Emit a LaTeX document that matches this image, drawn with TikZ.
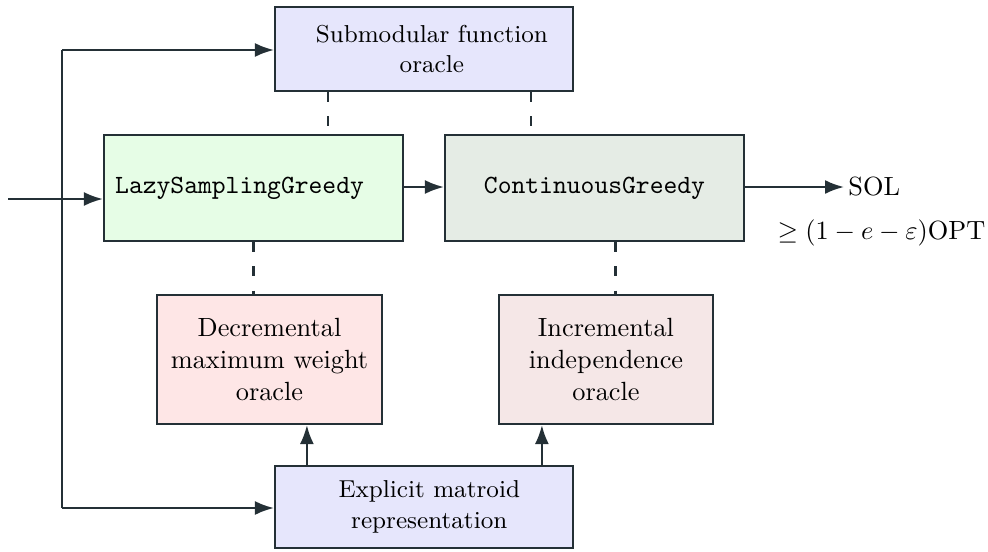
\documentclass[tikz,border=0pt]{standalone}
\usetikzlibrary{arrows.meta}
\definecolor{edgec}{RGB}{36,48,54}
\definecolor{subfill}{RGB}{230,230,252}
\definecolor{lsgfill}{RGB}{230,253,230}
\definecolor{cgfill}{RGB}{229,236,229}
\definecolor{decfill}{RGB}{254,230,230}
\definecolor{incfill}{RGB}{245,231,231}
\begin{document}
\begin{tikzpicture}[x=0.38pt,y=-0.38pt,
  box/.style={draw=edgec,line width=0.85pt,inner sep=0pt,align=center,text=black},
  smallbox/.style={box,font=\fontsize{9.3}{11.5}\selectfont},
  arr/.style={draw=edgec,line width=0.85pt,-{Latex[length=7.2pt,width=5.3pt]}},
  plainln/.style={draw=edgec,line width=0.85pt},
  dsh/.style={draw=edgec,line width=0.85pt,dash pattern=on 3.6pt off 5.6pt}
]
\useasboundingbox (0,0) rectangle (988,551);

\node[smallbox,fill=subfill,minimum width=113.2pt,minimum height=31.9pt] (sub) at (424,49)
  {\hspace*{6pt}Submodular function\\\hspace*{6pt}oracle};
\node[box,fill=lsgfill,minimum width=113.6pt,minimum height=40.3pt] (lsg) at (253.5,188)
  {\texttt{LazySamplingGreedy}\hspace*{10.6pt}};
\node[box,fill=cgfill,minimum width=113.6pt,minimum height=40.3pt] (cg) at (594.5,188)
  {\texttt{ContinuousGreedy}};
\node[box,fill=decfill,minimum width=85.5pt,minimum height=49pt] (dec) at (269.5,359.5)
  {Decremental\\maximum weight\\oracle};
\node[box,fill=incfill,minimum width=81.3pt,minimum height=49pt] (inc) at (606,359.5)
  {Incremental\\independence\\oracle};
\node[smallbox,fill=subfill,minimum width=113.2pt,minimum height=31.2pt] (exp) at (424,507)
  {\hspace*{4pt}Explicit matroid\\\hspace*{4pt}representation};

\node[anchor=west,inner sep=1.5pt] (sol) at (844,187) {SOL};
\node[inner sep=0pt] (opt) at (881.5,233) {$\geq(1-e-\varepsilon)\mathrm{OPT}$};

\coordinate (in) at (8,199);
\coordinate (corner1) at (62,50);
\coordinate (corner2) at (62,508);

% input arrow
\draw[arr] (in) -- (in -| lsg.west);
% feed lines
\draw[plainln] (corner2) -- (corner1);
\draw[arr] (corner1) -- (corner1 -| sub.west);
\draw[arr] (corner2) -- (corner2 -| exp.west);
% main chain
\draw[arr] (lsg.east |- 0,187) -- (cg.west |- 0,187);
\draw[arr] (cg.east |- sol.west) -- (sol.west);

% dashed oracle links
\draw[dsh] ([xshift=-36.5pt]sub.south) -- ([xshift=-36.5pt]sub.south |- lsg.north);
\draw[dsh] ([xshift=40.7pt]sub.south) -- ([xshift=40.7pt]sub.south |- cg.north);
\draw[dsh] (lsg.south) -- (lsg.south |- dec.north);
\draw[dsh] ([xshift=8pt]cg.south) -- ([xshift=8pt]cg.south |- inc.north);

% upward arrows
\draw[arr] ([xshift=-44.5pt]exp.north) -- ([xshift=-44.5pt]exp.north |- dec.south);
\draw[arr] ([xshift=44.8pt]exp.north) -- ([xshift=44.8pt]exp.north |- inc.south);
\end{tikzpicture}
\end{document}
